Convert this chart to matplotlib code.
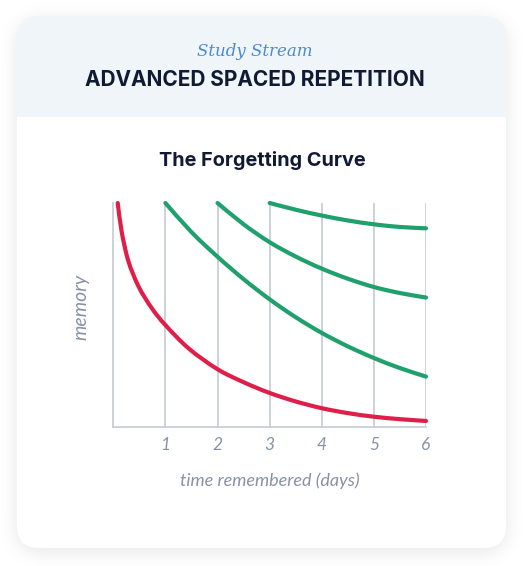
import numpy as np
import matplotlib
matplotlib.use("Agg")
from matplotlib import pyplot as plt
from matplotlib.patches import FancyBboxPatch, Rectangle, PathPatch
from matplotlib.path import Path

# ---------------------------------------------------------------
# data (days, memory 0..1)
forget_days = [0.085, 0.16, 0.29, 0.49, 0.74, 1.0, 1.45, 2.0, 2.5, 3.0, 3.5, 4.0, 4.5, 5.0, 5.5, 6.0]
forget_memory = [1.0, 0.873, 0.74, 0.625, 0.53, 0.455, 0.35, 0.258, 0.20, 0.152, 0.114, 0.084, 0.062, 0.046, 0.035, 0.027]

review1_days = [1.0, 1.5, 2.0, 2.5, 3.0, 3.5, 4.0, 4.5, 5.0, 5.5, 6.0]
review1_memory = [1.0, 0.87, 0.76, 0.66, 0.57, 0.49, 0.42, 0.36, 0.308, 0.263, 0.225]

review2_days = [2.0, 2.5, 3.0, 3.5, 4.0, 4.5, 5.0, 5.5, 6.0]
review2_memory = [1.0, 0.905, 0.825, 0.761, 0.707, 0.662, 0.625, 0.598, 0.578]

review3_days = [3.0, 3.5, 4.0, 4.5, 5.0, 5.5, 6.0]
review3_memory = [1.0, 0.97, 0.944, 0.922, 0.905, 0.893, 0.887]

day_ticks = [1, 2, 3, 4, 5, 6]

# ---------------------------------------------------------------
W, H = 528, 566
RED = "#dd1f4a"
GREEN = "#1fa06d"
GRID = "#c9ced6"
MUTED = "#8792a5"
NAVY = "#111a33"

fig = plt.figure(figsize=(W / 100, H / 100), dpi=100)
fig.patch.set_facecolor("white")

# background layer in pixel coords
bg = fig.add_axes([0, 0, 1, 1])
bg.set_xlim(0, W)
bg.set_ylim(H, 0)
bg.axis("off")

card_x0, card_x1, card_y0, card_y1, rad = 17, 506, 16, 548, 22
header_bottom = 117


def rounded_mask(x0, x1, y0, y1, r, shift=0):
  yy, xx = np.mgrid[0:H, 0:W] + 0.5
  cx, cy = (x0 + x1) / 2, (y0 + y1) / 2 + shift
  hw, hh = (x1 - x0) / 2, (y1 - y0) / 2
  dx = np.maximum(np.abs(xx - cx) - (hw - r), 0)
  dy = np.maximum(np.abs(yy - cy) - (hh - r), 0)
  return (np.sqrt(dx ** 2 + dy ** 2) <= r).astype(float)


def blur(img, sigma):
  k = np.arange(-3 * sigma, 3 * sigma + 1)
  kern = np.exp(-k ** 2 / (2 * sigma ** 2))
  kern /= kern.sum()
  img = np.apply_along_axis(lambda r: np.convolve(r, kern, mode="same"), 1, img)
  img = np.apply_along_axis(lambda c: np.convolve(c, kern, mode="same"), 0, img)
  return img


def smooth_path(xs, ys):
  # catmull-rom through the points, handed to matplotlib as cubic beziers
  p = np.column_stack([xs, ys]).astype(float)
  p = np.vstack([p[0], p, p[-1]])
  verts = [p[1]]
  codes = [Path.MOVETO]
  for i in range(1, len(p) - 2):
    c1 = p[i] + (p[i + 1] - p[i - 1]) / 6
    c2 = p[i + 1] - (p[i + 2] - p[i]) / 6
    verts += [c1, c2, p[i + 1]]
    codes += [Path.CURVE4] * 3
  return Path(verts, codes)


# soft drop shadow
shadow = blur(rounded_mask(card_x0, card_x1, card_y0, card_y1, rad, shift=4), 9)
rgba = np.zeros((H, W, 4))
rgba[..., :3] = 0.35
rgba[..., 3] = shadow * 0.15
bg.imshow(rgba, extent=[0, W, H, 0], zorder=0, interpolation="bilinear")

# card: header colour first, white body on top
bg.add_patch(FancyBboxPatch((card_x0 + rad, card_y0 + rad), card_x1 - card_x0 - 2 * rad,
                            card_y1 - card_y0 - 2 * rad, boxstyle="round,pad=%d" % rad,
                            fc="#f0f5fa", ec="none", zorder=1))
bg.add_patch(FancyBboxPatch((card_x0 + rad, header_bottom + rad), card_x1 - card_x0 - 2 * rad,
                            card_y1 - header_bottom - 2 * rad, boxstyle="round,pad=%d" % rad,
                            fc="white", ec="none", zorder=2))
bg.add_patch(Rectangle((card_x0, header_bottom), card_x1 - card_x0, rad + 2,
                       fc="white", ec="none", zorder=2))

bg.text(255, 51, "Study Stream", ha="center", va="center", fontsize=12,
        family="DejaVu Serif", style="italic", color="#4a8ad4", zorder=3)
bg.text(255, 80, "ADVANCED SPACED REPETITION", ha="center", va="center", fontsize=15,
        family="Inter", weight="bold", color=NAVY, zorder=3)
bg.text(262, 161, "The Forgetting Curve", ha="center", va="center", fontsize=14.3,
        family="Inter", weight="bold", color=NAVY, zorder=3)

# ---------------------------------------------------------------
# chart
ax = fig.add_axes([113.3 / W, (H - 427) / H, (426 - 113.3) / W, 224 / H])
ax.set_facecolor("none")
ax.set_zorder(5)
ax.set_xlim(0, 6)
ax.set_ylim(0, 1)

for d in day_ticks:
  ax.axvline(d, color=GRID, lw=1.3, zorder=1)

for s in ["top", "right"]:
  ax.spines[s].set_visible(False)
for s in ["left", "bottom"]:
  ax.spines[s].set_color(GRID)
  ax.spines[s].set_linewidth(1.3)

curves = [(forget_days, forget_memory, RED), (review1_days, review1_memory, GREEN),
          (review2_days, review2_memory, GREEN), (review3_days, review3_memory, GREEN)]
for dd, mm, col in curves:
  patch = PathPatch(smooth_path(dd, mm), fill=False, ec=col, lw=3,
                    capstyle="round", joinstyle="round", clip_on=False, zorder=3)
  ax.add_patch(patch)

ax.set_xticks(day_ticks)
ax.set_xticklabels([str(d) for d in day_ticks], family="Lato", style="italic",
                   fontsize=12.5, color=MUTED)
ax.set_yticks([])
ax.tick_params(axis="x", length=0, pad=7)

ax.set_xlabel("time remembered (days)", family="Lato", style="italic",
              fontsize=13, color=MUTED, labelpad=14)
ax.set_ylabel("memory", family="Lato", style="italic", fontsize=14, color=MUTED)
ax.yaxis.set_label_coords(-0.075, 0.536)

fig.savefig("out.png", dpi=100)
